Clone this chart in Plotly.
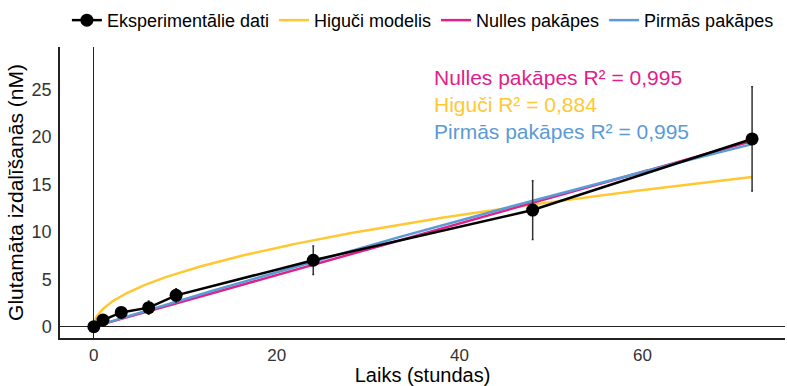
import numpy as np
import plotly.graph_objects as go

# Experimental data
time_h = [0, 1, 3, 6, 9, 24, 48, 72]
glutamate = [0.0, 0.7, 1.5, 2.0, 3.3, 7.0, 12.3, 19.8]
glutamate_err = [0.0, 0.2, 0.3, 0.7, 0.7, 1.5, 3.1, 5.5]

# Fitted model parameters
higuchi_k = 1.86          # y = k * sqrt(t)
zero_order_k = 0.272      # y = k * t
first_order_a = 100.0     # y = a * (1 - exp(-k t))
first_order_k = 0.00297

r2_labels = ["Nulles pakāpes R² = 0,995", "Higuči R² = 0,884", "Pirmās pakāpes R² = 0,995"]
legend_names = ["Eksperimentālie dati", "Higuči modelis", "Nulles pakāpes", "Pirmās pakāpes"]

YELLOW = "#FFC832"
PINK = "#E0218A"
BLUE = "#5B9BD5"

t_model = np.linspace(0, 72, 400)
higuchi = higuchi_k * np.sqrt(t_model)
zero_order = zero_order_k * t_model
first_order = first_order_a * (1 - np.exp(-first_order_k * t_model))

fig = go.Figure()
fig.add_trace(go.Scatter(x=t_model, y=higuchi, mode="lines", name=legend_names[1],
                         line=dict(color=YELLOW, width=2.5), legendrank=2))
fig.add_trace(go.Scatter(x=t_model, y=zero_order, mode="lines", name=legend_names[2],
                         line=dict(color=PINK, width=2.5), legendrank=3))
fig.add_trace(go.Scatter(x=t_model, y=first_order, mode="lines", name=legend_names[3],
                         line=dict(color=BLUE, width=2.5), legendrank=4))
fig.add_trace(go.Scatter(x=time_h, y=glutamate, mode="lines+markers", name=legend_names[0],
                         line=dict(color="black", width=2.5),
                         marker=dict(color="black", size=13),
                         error_y=dict(type="data", array=glutamate_err, visible=True,
                                      color="#333333", thickness=1.5, width=1),
                         legendrank=1))

font_family = "Liberation Sans, Arial, sans-serif"
H, T, B = 386, 47, 48
ph = H - T - B
ann_colors = [PINK, YELLOW, BLUE]
for i, (txt, c) in enumerate(zip(r2_labels, ann_colors)):
    ypix = 78 + i * 26.5
    fig.add_annotation(x=0.513, xref="paper", y=(H - B - ypix) / ph, yref="paper",
                       text=txt, showarrow=False, xanchor="left", yanchor="middle",
                       font=dict(size=21, color=c, family=font_family))

fig.update_layout(
    width=787, height=386,
    margin=dict(l=60, r=2, t=T, b=B),
    paper_bgcolor="white", plot_bgcolor="white",
    font=dict(family=font_family, color="black"),
    showlegend=True,
    legend=dict(orientation="h", xref="container", yref="container",
                x=0.085, y=0.995, xanchor="left", yanchor="top",
                font=dict(size=18, color="black"), itemwidth=30,
                bgcolor="rgba(0,0,0,0)", tracegroupgap=0),
    xaxis=dict(range=[-3.7, 75.6], tickvals=[0, 20, 40, 60], ticktext=["0", "20", "40", "60"],
               showgrid=False, zeroline=True, zerolinecolor="#222", zerolinewidth=1,
               showline=True, linecolor="#222", linewidth=1.5, mirror=False,
               ticks="outside", ticklen=1, tickcolor="rgba(0,0,0,0)",
               tickfont=dict(size=17, color="#333"),
               title=dict(text="Laiks (stundas)", font=dict(size=20, color="black"), standoff=0)),
    yaxis=dict(range=[-1.2, 29.5], tickvals=[0, 5, 10, 15, 20, 25],
               showgrid=False, zeroline=True, zerolinecolor="#222", zerolinewidth=1,
               showline=True, linecolor="#222", linewidth=1.5, mirror=False,
               ticks="outside", ticklen=3, tickcolor="rgba(0,0,0,0)",
               tickfont=dict(size=18, color="#333"),
               title=dict(text="Glutamāta izdalīšanās (nM)", font=dict(size=21, color="black"), standoff=2)),
)

fig.write_html("out.html")
